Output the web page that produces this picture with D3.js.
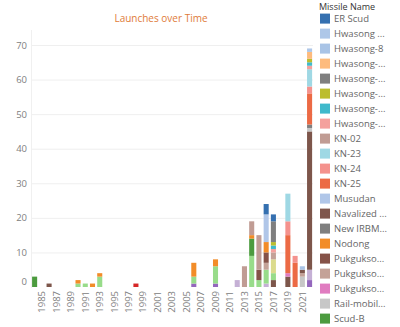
<!DOCTYPE html>
<html><head><meta charset="utf-8">
<script src="https://cdn.jsdelivr.net/npm/d3@7"></script>
<style>
html,body{margin:0;padding:0;background:#fff;overflow:hidden;}
svg{display:block;font-family:"Open Sans",sans-serif;}
</style></head><body>
<svg id="chart" width="400" height="327"></svg>
<script>
// ---- data ----
const years = [1984,1985,1986,1987,1988,1989,1990,1991,1992,1993,1994,1995,1996,1997,1998,1999,2000,2001,2002,2003,2004,2005,2006,2007,2008,2009,2010,2011,2012,2013,2014,2015,2016,2017,2018,2019,2020,2021,2022];
const xTickLabels = [1985,1987,1989,1991,1993,1995,1997,1999,2001,2003,2005,2007,2009,2011,2013,2015,2017,2019,2021];
const yTicks = [0,10,20,30,40,50,60,70];
const missiles = ["ER Scud","Hwasong Scud","Hwasong-8","Hwasong-11","Hwasong-12","Hwasong-14","Hwasong-15","Hwasong-17","KN-02","KN-23","KN-24","KN-25","Musudan","Navalized KN-23","New IRBM","Nodong","Pukguksong-1","Pukguksong-2","Pukguksong-3","Rail-mobile KN-23","Scud-B","Scud-B MaRV","Scud-C","SRBM","Taepodong-1","Unha-3","Unknown"];
const legendLabels = ["ER Scud","Hwasong ...","Hwasong-8","Hwasong-...","Hwasong-...","Hwasong-...","Hwasong-...","Hwasong-...","KN-02","KN-23","KN-24","KN-25","Musudan","Navalized ...","New IRBM...","Nodong","Pukgukso...","Pukgukso...","Pukgukso...","Rail-mobil...","Scud-B","Scud-B Ma...","Scud-C","SRBM","Taepodon...","Unha-3","Unknown"];
const launchYears    = [1984,1986,1990,1990,1991,1992,1993,1993,1998,2006,2006,2006,2009,2009,2009,2012,2013,2014,2014,2014,2014,2015,2015,2015,2016,2016,2016,2016,2016,2016,2016,2017,2017,2017,2017,2017,2017,2017,2017,2017,2019,2019,2019,2019,2019,2020,2020,2021,2021,2021,2021,2022,2022,2022,2022,2022,2022,2022,2022,2022,2022,2022,2022,2022];
const launchMissiles = ["Scud-B","SRBM","Nodong","Scud-C","Scud-C","Nodong","Nodong","Scud-C","Taepodong-1","Nodong","Scud-C","Unknown","Nodong","Scud-C","Unknown","Unha-3","KN-02","KN-02","Nodong","Scud-B","Scud-C","KN-02","Pukguksong-1","Scud-C","ER Scud","Musudan","Nodong","Pukguksong-1","Pukguksong-2","Scud-C","Unha-3","ER Scud","Hwasong-12","Hwasong-14","Hwasong-15","Hwasong-17","Pukguksong-2","Scud-B MaRV","Scud-C","SRBM","KN-23","KN-24","KN-25","Pukguksong-3","SRBM","KN-24","KN-25","Hwasong-8","Navalized KN-23","Pukguksong-2","Rail-mobile KN-23","Hwasong Scud","Hwasong-11","Hwasong-14","Hwasong-15","Hwasong-17","KN-23","KN-24","KN-25","New IRBM","Rail-mobile KN-23","SRBM","Unha-3","Unknown"];
const launchCounts   = [3,1,1,1,1,1,1,3,1,4,2,1,2,5,1,2,6,4,1,5,9,10,3,2,3,8,3,3,2,4,1,2,6,1,1,1,2,4,2,2,8,4,11,1,3,2,7,1,1,1,3,1,2,1,1,1,5,2,9,1,1,40,3,2];

// ---- styles ----
const palette = ["#3570b0","#aec7e8","#a9c4e6","#fdbb7d","#7f7f7f","#bcbd2e","#3fb9cb","#f4a19d","#c09c94","#9fd8e4","#f4928d","#ec6a45","#b0c6e8","#7f564c","#7f7f7f","#f28c28","#855248","#c4a298","#e07cc0","#c7c7c7","#4c9b3f","#dbdb8d","#98dc8a","#7d564b","#d62728","#c5b0d5","#9467bd"];

const W = 400, H = 327;
const svg = d3.select("#chart");
const x = d3.scaleBand().domain(years).range([31, 313.2]).paddingInner(0.3).paddingOuter(0.15);
const y = d3.scaleLinear().domain([0, 70]).range([287, 45]);
const color = d3.scaleOrdinal().domain(missiles).range(palette);

// table
const table = years.map(yr => {
  const row = {year: yr};
  missiles.forEach(m => row[m] = 0);
  return row;
});
launchYears.forEach((yr, i) => {
  const row = table.find(r => r.year === yr);
  row[launchMissiles[i]] += launchCounts[i];
});

// grid
svg.append("g").selectAll("line").data(yTicks.filter(t => t > 0)).join("line")
  .attr("x1", 31).attr("x2", 313).attr("y1", d => y(d) + 0.5).attr("y2", d => y(d) + 0.5)
  .attr("stroke", "#efefef").attr("stroke-width", 1);
svg.append("line").attr("x1", 31.5).attr("x2", 31.5).attr("y1", 30).attr("y2", 288)
  .attr("stroke", "#f0f0f0");

// bars
const stack = d3.stack().keys(missiles.slice().reverse());
const series = stack(table);
svg.append("g").selectAll("g").data(series).join("g")
  .attr("fill", d => color(d.key))
  .selectAll("rect").data(d => d.filter(p => p[1] - p[0] > 0)).join("rect")
  .attr("x", d => x(d.data.year))
  .attr("width", x.bandwidth())
  .attr("y", d => y(d[1]))
  .attr("height", d => y(d[0]) - y(d[1]));

// y axis
const yAxis = svg.append("g").attr("transform", "translate(28,0)")
  .call(d3.axisLeft(y).tickValues(yTicks).tickSize(0).tickPadding(1));
yAxis.select(".domain").remove();
yAxis.selectAll("text").attr("fill", "#808080").style("font-size", "9.5px").style("font-family", "'Open Sans',sans-serif")
  .attr("dy", d => d === 0 ? "-0.3em" : "0.32em");

// x axis
const xAxis = svg.append("g").attr("transform", "translate(0,289)")
  .call(d3.axisBottom(x).tickValues(xTickLabels).tickSize(0));
xAxis.select(".domain").remove();
xAxis.selectAll("text")
  .attr("transform", "rotate(-90)")
  .attr("x", -2).attr("y", 0).attr("dy", "0.35em")
  .style("text-anchor", "end")
  .attr("fill", "#808080").style("font-size", "9.5px").style("font-family", "'Open Sans',sans-serif");

// title
svg.append("text").attr("x", 161).attr("y", 22).attr("text-anchor", "middle")
  .attr("fill", "#e07b39").style("font-size", "10px").text("Launches over Time");

// legend (scrolling legend: only the rows that fit in the view are shown)
svg.append("text").attr("x", 319).attr("y", 9.6).attr("fill", "#333").style("font-size", "9px").text("Missile Name");
const rowY = i => 13.6 + i * 15.0;
const visible = missiles.filter((m, i) => rowY(i) + 10 <= H);
const lg = svg.append("g").selectAll("g").data(visible).join("g")
  .attr("transform", (d, i) => `translate(320,${rowY(i)})`);
lg.append("rect").attr("width", 10).attr("height", 10).attr("fill", d => color(d));
lg.append("text").attr("x", 14).attr("y", 5).attr("dy", "0.35em")
  .attr("fill", "#666").style("font-size", "9.5px")
  .text((d, i) => legendLabels[i]);
</script>
</body></html>
